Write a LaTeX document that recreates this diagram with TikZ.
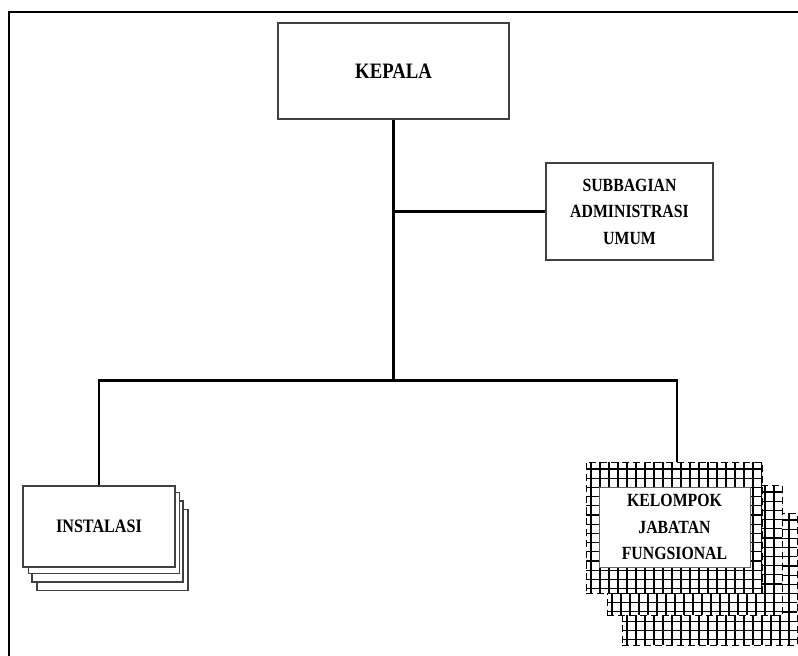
\documentclass[tikz,border=0pt]{standalone}
\usepackage{fontspec}
\newfontfamily\lblfont[FakeStretch=0.85]{Liberation Serif}
\usetikzlibrary{calc}
\begin{document}
\begin{tikzpicture}[x=1pt,y=-1pt,
  box/.style={draw=black!75, line width=1.3pt, fill=white, align=center, inner sep=0pt,
    font=\lblfont\bfseries\fontsize{18.6}{26.5}\selectfont},
  stackbox/.style={draw=black!75, line width=1.3pt, fill=white, inner sep=0pt,
    minimum width=151pt, minimum height=81pt},
  conn/.style={draw=black, line width=2.4pt},
  gridbox/.style={draw=black, line width=1pt, dash pattern=on 7pt off 4pt, fill=white, inner sep=0pt,
    path picture={
      \foreach \i in {0,...,21}{
        \draw[solid, line width=1.3pt] ([xshift={\i*9pt+5pt}]path picture bounding box.north west)
          -- ([xshift={\i*9pt+5pt}]path picture bounding box.south west);}
      \foreach \j in {0,...,16}{
        \draw[solid, line width=1.3pt] ([yshift={-\j*9.2pt-7pt}]path picture bounding box.north west)
          -- ([yshift={-\j*9.2pt-7pt}]path picture bounding box.north east);}
    }},
  frame/.style={draw=black, line width=2pt}]
\useasboundingbox (0,0) rectangle (798,656);
\begin{scope}
\clip (0,0) rectangle (798,656);
% outer frame (cropped)
\coordinate (fb) at (9,660);
\coordinate (fc) at (9,12);
\coordinate (fr) at (802,12);
\draw[frame] (fb) -- (fc) -- (fr);

% boxes
\node[box, minimum width=231pt, minimum height=96pt, font=\lblfont\bfseries\fontsize{22}{26}\selectfont] (kepala) at (393.5,71) {KEPALA};
\node[box, minimum width=167pt, minimum height=97pt] (sub) at (629.5,211.5) {SUBBAGIAN\\ADMINISTRASI\\UMUM};

% instalasi stack
\node[stackbox] (inst4) at (112.5,550) {};
\node[stackbox] (inst3) at (107.5,541.5) {};
\node[stackbox] (inst2) at (104,533) {};
\node[box, minimum width=152pt, minimum height=81pt, font=\lblfont\bfseries\fontsize{19}{26}\selectfont] (inst1) at (99,526.5) {INSTALASI};

% kelompok stack
\node[gridbox, minimum width=175pt, minimum height=132pt] (kel3) at (709.5,579) {};
\node[gridbox, minimum width=175pt, minimum height=130pt] (kel2) at (694.5,550) {};
\node[gridbox, minimum width=176pt, minimum height=131pt] (kel1) at (674,527.5) {};
\node[box, draw=black!60, line width=0.9pt, minimum width=151pt, minimum height=80pt] (kel) at (674.5,527) {KELOMPOK\\JABATAN\\FUNGSIONAL};

% connectors
\path (kepala.south) ++(0,261) coordinate (j);
\draw[conn] (kepala.south) -- (j);
\draw[conn] (kepala.south |- sub.west) -- (sub.west);
\draw[conn] (inst1.north) |- (j) -| ([xshift=3pt]kel1.north);
\end{scope}
\end{tikzpicture}
\end{document}
